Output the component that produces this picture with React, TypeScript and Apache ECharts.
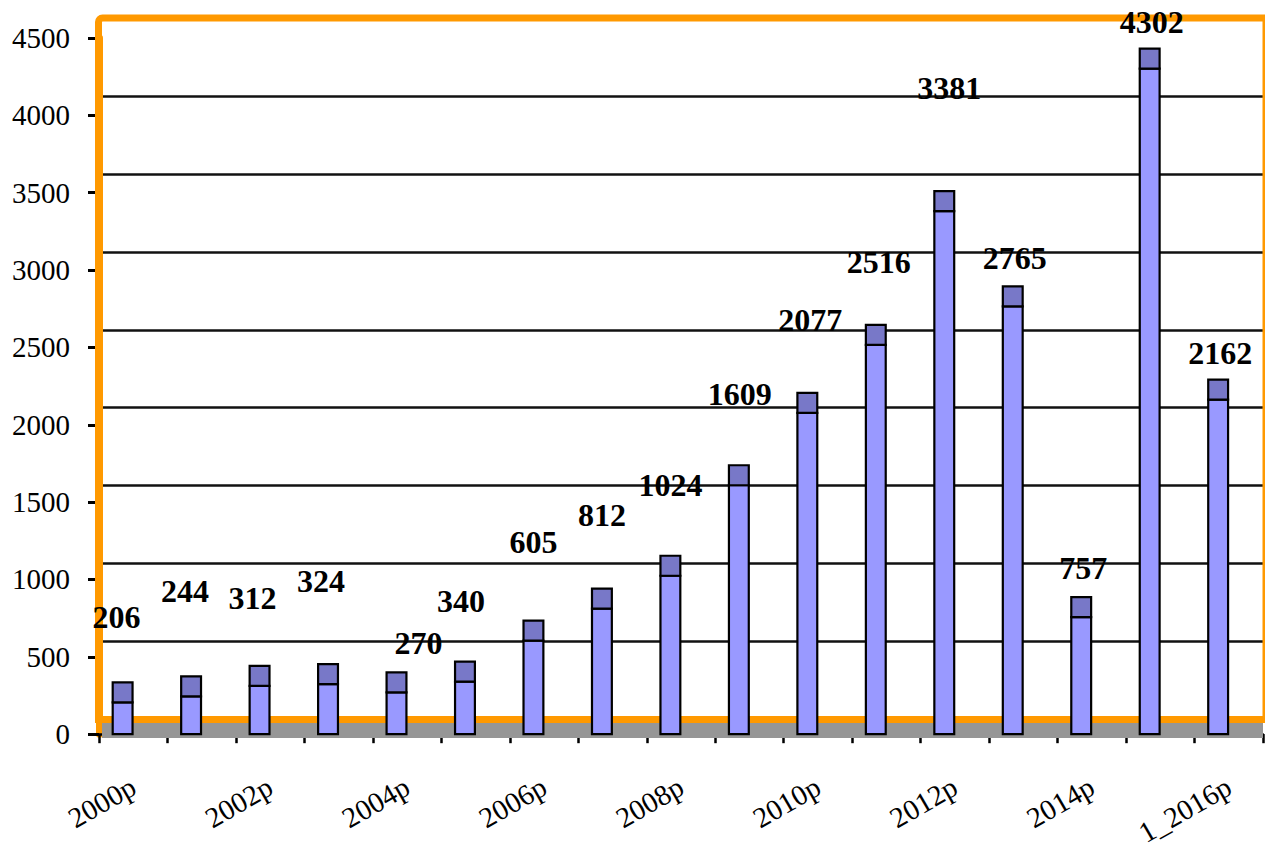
import React, { useEffect, useRef } from 'react';
import * as echarts from 'echarts';

// ---------- data ----------
const CATEGORIES = [
  '2000p', '2001p', '2002p', '2003p', '2004p', '2005p', '2006p', '2007p', '2008p',
  '2009p', '2010p', '2011p', '2012p', '2013p', '2014p', '2015p', '1_2016p',
];
const VALUES = [206, 244, 312, 324, 270, 340, 605, 812, 1024, 1609, 2077, 2516, 3381, 2765, 757, 4302, 2162];
const Y_MIN = 0;
const Y_MAX = 4500;
const Y_INTERVAL = 500;

// ---------- layout (label offsets from bar top centre, px) ----------
const LABEL_OFFSETS = [
  [-6, -85], [-6, -105], [-7, -88], [-7, -103], [22, -49], [-4, -81], [0, -99], [0, -94], [0, -91],
  [1, -91], [3, -93], [3, -83], [5, -123], [2, -48], [2, -49], [2, -47], [2, -47],
];

const W = 1265;
const H = 849;
const PLOT_LEFT = 99;
const PLOT_RIGHT = 1263;
const FRONT_TOP = 38;
const FRONT_BOTTOM = 739.5;
const DEPTH = 20;
const ORANGE = '#FF9900';
const FRONT = '#9999FF';
const CAP = '#7878C8';
const FLOOR = '#969696';
const SERIF = "'Liberation Serif', 'Times New Roman', serif";

const AXIS_RICH = {
  s: { fontFamily: SERIF, fontSize: 29, color: '#000' },
};

export default function App() {
  const ref = useRef<HTMLDivElement>(null);

  useEffect(() => {
    const chart = echarts.init(ref.current as HTMLDivElement, undefined, { renderer: 'svg' });

    const renderItem = (params: any, api: any) => {
      const idx = api.value(0);
      const v = api.value(1);
      const top = api.coord([idx, v]);
      const base = api.coord([idx, 0]);
      const bw = api.size([1, 0])[0];
      const w = bw * 0.29;
      const cx = top[0] - bw * 0.155;
      const x = cx - w / 2;
      const off = LABEL_OFFSETS[params.dataIndex] || [0, -60];
      return {
        type: 'group',
        children: [
          {
            type: 'rect',
            shape: { x, y: top[1], width: w, height: base[1] - top[1] },
            style: { fill: FRONT, stroke: '#000', lineWidth: 2.2 },
          },
          {
            type: 'rect',
            shape: { x, y: top[1] - DEPTH, width: w, height: DEPTH },
            style: { fill: CAP, stroke: '#000', lineWidth: 2.2 },
          },
          {
            type: 'text',
            x: cx + off[0],
            y: top[1] + off[1],
            style: {
              text: String(v),
              fill: '#000',
              fontFamily: SERIF,
              fontSize: 32,
              fontWeight: 'bold',
              align: 'center',
              verticalAlign: 'middle',
              textAlign: 'center',
              textVerticalAlign: 'middle',
            },
          },
        ],
      };
    };

    const option: any = {
      animation: false,
      backgroundColor: '#ffffff',
      textStyle: { fontFamily: SERIF },
      grid: [
        {
          left: PLOT_LEFT,
          right: W - PLOT_RIGHT,
          top: FRONT_TOP - DEPTH,
          bottom: H - (FRONT_BOTTOM - DEPTH),
          show: true,
          backgroundColor: '#ffffff',
          borderWidth: 0,
        },
        {
          left: PLOT_LEFT,
          right: W - PLOT_RIGHT,
          top: FRONT_TOP,
          bottom: H - FRONT_BOTTOM,
        },
      ],
      xAxis: [
        { gridIndex: 0, type: 'category', data: CATEGORIES, show: false },
        {
          gridIndex: 1,
          type: 'category',
          data: CATEGORIES,
          axisLine: { show: true, lineStyle: { color: '#000', width: 2.5 } },
          axisTick: { show: true, interval: 0, length: 9, lineStyle: { color: '#000', width: 2.5 } },
          axisLabel: {
            interval: 1,
            rotate: 30,
            margin: 50,
            fontFamily: SERIF,
            fontSize: 29,
            color: '#000',
            formatter: (val: string) => `{s|${val}}`,
            rich: AXIS_RICH,
          },
          splitLine: { show: false },
        },
      ],
      yAxis: [
        {
          gridIndex: 0,
          type: 'value',
          min: Y_MIN,
          max: Y_MAX,
          interval: Y_INTERVAL,
          axisLine: { show: false },
          axisTick: { show: false },
          axisLabel: { show: false },
          splitLine: { show: true, lineStyle: { color: '#111', width: 2.5 } },
        },
        {
          gridIndex: 1,
          type: 'value',
          min: Y_MIN,
          max: Y_MAX,
          interval: Y_INTERVAL,
          axisLine: { show: true, lineStyle: { color: ORANGE, width: 7 } },
          axisTick: { show: true, length: 11, lineStyle: { color: '#000', width: 3 } },
          axisLabel: {
            margin: 29,
            fontFamily: SERIF,
            fontSize: 29,
            color: '#000',
            formatter: (val: number) => `{s|${val}}`,
            rich: AXIS_RICH,
          },
          splitLine: { show: false },
        },
      ],
      graphic: {
        elements: [
          {
            type: 'rect',
            z: 1,
            silent: true,
            shape: {
              x: PLOT_LEFT + 3,
              y: FRONT_BOTTOM - DEPTH + 3,
              width: PLOT_RIGHT - PLOT_LEFT - 3,
              height: DEPTH - 4.5,
            },
            style: { fill: FLOOR },
          },
          {
            type: 'rect',
            z: 1,
            silent: true,
            shape: {
              x: PLOT_LEFT - 0.5,
              y: FRONT_TOP - DEPTH,
              width: W + 1 - (PLOT_LEFT - 0.5),
              height: FRONT_BOTTOM - FRONT_TOP,
              r: [4, 0, 0, 0],
            },
            style: { fill: 'none', stroke: ORANGE, lineWidth: 7 },
          },
        ],
      },
      series: [
        {
          type: 'custom',
          xAxisIndex: 1,
          yAxisIndex: 1,
          z: 3,
          clip: false,
          data: VALUES.map((v, i) => [i, v]),
          encode: { x: 0, y: 1 },
          renderItem,
        },
      ],
    };

    chart.setOption(option);
    return () => chart.dispose();
  }, []);

  return (
    <div
      ref={ref}
      style={{ position: 'fixed', left: 0, top: 0, width: W, height: H, background: '#fff' }}
    />
  );
}
